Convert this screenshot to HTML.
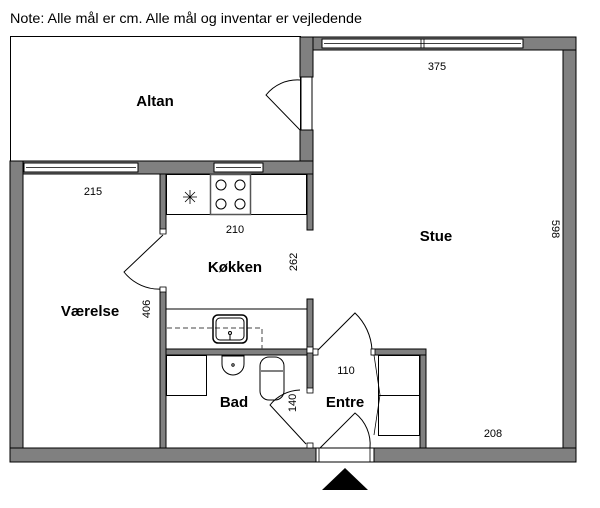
<!DOCTYPE html>
<html><head><meta charset="utf-8"><style>
html,body{margin:0;padding:0;background:#fff}
svg{display:block}
text{font-family:"Liberation Sans",sans-serif;fill:#000}
.b{font-weight:bold;font-size:15px}
.s{font-size:11px}
</style></head><body>
<svg width="600" height="508" viewBox="0 0 600 508">
<text x="10" y="23" font-size="14" textLength="352" lengthAdjust="spacingAndGlyphs">Note: Alle mål er cm. Alle mål og inventar er vejledende</text>
<!-- Altan -->
<rect x="10.5" y="36.5" width="290" height="125" fill="none" stroke="#000"/>
<g fill="#808080" stroke="#000" stroke-width="1">
<!-- walls -->
<rect x="300" y="37" width="13" height="40"/>
<rect x="300" y="130" width="13" height="44"/>
<rect x="10" y="161" width="13" height="301"/>
<rect x="23" y="161" width="290" height="13"/>
<rect x="307" y="174" width="6" height="56"/>
<rect x="313" y="37" width="263" height="13"/>
<rect x="563" y="50" width="13" height="412"/>
<rect x="10" y="448" width="306" height="14"/>
<rect x="374" y="448" width="202" height="14"/>
<rect x="160" y="174" width="6" height="59"/>
<rect x="160" y="288" width="6" height="160"/>
<rect x="166" y="349" width="150" height="6"/>
<rect x="307" y="299" width="6" height="91"/>
<rect x="372" y="349" width="54" height="6"/>
<rect x="420" y="355" width="6" height="93"/>
</g>
<!-- windows -->
<g fill="#fff" stroke="#000" stroke-width="1">
<rect x="24" y="163" width="114" height="9"/>
<rect x="214" y="163" width="49" height="9"/>
<rect x="322" y="39" width="201" height="9"/>
<rect x="301" y="77" width="11" height="53"/>
<rect x="316" y="448" width="58" height="14"/>
</g>
<g stroke="#000" stroke-width="0.8" fill="none">
<line x1="26" y1="167.5" x2="136" y2="167.5"/>
<line x1="216" y1="167.5" x2="261" y2="167.5"/>
<line x1="324" y1="43.5" x2="521" y2="43.5"/>
<line x1="421" y1="39" x2="421" y2="48"/><line x1="424" y1="39" x2="424" y2="48"/>
<line x1="319" y1="448" x2="319" y2="462"/><line x1="370" y1="448" x2="370" y2="462"/>
</g>
<!-- kitchen counter -->
<g stroke="#000" fill="none" stroke-width="1">
<rect x="166.5" y="174.5" width="140" height="40" fill="#fff"/>
<rect x="210.5" y="174.5" width="40" height="40" stroke="#555" stroke-width="1.5"/>
<circle cx="221" cy="185" r="5"/><circle cx="240" cy="185" r="5"/>
<circle cx="221" cy="204" r="5"/><circle cx="240" cy="204" r="5"/>
<path d="M183 197h14M190 190v14M185 192l10 10M195 192l-10 10" stroke-width="0.8"/>
<!-- sink counter -->
<line x1="166" y1="309" x2="307" y2="309"/>
<path d="M167 328H262V349" stroke-dasharray="5,3" stroke="#444"/>
<rect x="213" y="315" width="34" height="28" rx="5" stroke-width="1.5"/>
<rect x="216" y="318" width="28" height="22" rx="4"/>
<circle cx="230" cy="333" r="1.5"/><line x1="230" y1="334" x2="230" y2="340"/>
<!-- bath -->
<rect x="166.5" y="355.5" width="40" height="40"/>
<path d="M222 356h22v8a11 11 0 0 1-22 0z"/>
<circle cx="233" cy="365" r="1.2"/>
<rect x="260" y="357" width="24" height="43" rx="9"/>
<line x1="261" y1="371" x2="283" y2="371"/>
<!-- wardrobe -->
<rect x="378.5" y="355.5" width="41" height="80"/>
<line x1="378" y1="395.5" x2="420" y2="395.5"/>
<!-- doors -->
<path d="M300 130L266 95A40 40 0 0 1 300 80"/>
<path d="M163 235L124 272A45 45 0 0 0 163 289"/>
<path d="M306 444L270 405A40 40 0 0 1 300 390"/>
<path d="M318 350L355 313A55 55 0 0 1 372 350"/>
<path d="M320 448L355 413A40 40 0 0 1 370 448"/>
<path d="M374 355L380 395L374 435" stroke-width="0.8"/>
</g>
<g fill="#fff" stroke="#000" stroke-width="0.8">
<rect x="160" y="229" width="6" height="5"/><rect x="160" y="287" width="6" height="5"/>
<rect x="307" y="347" width="6" height="6"/><rect x="313" y="349" width="5" height="6"/>
<rect x="371" y="349" width="4" height="6"/><rect x="307" y="388" width="6" height="5"/>
<rect x="307" y="443" width="6" height="5"/>
</g>
<polygon points="345,468 322,490 368,490" fill="#000"/>
<!-- labels -->
<text class="b" x="155" y="106" text-anchor="middle">Altan</text>
<text class="s" x="93" y="195" text-anchor="middle">215</text>
<text class="s" x="235" y="233" text-anchor="middle">210</text>
<text class="b" x="235" y="272" text-anchor="middle">Køkken</text>
<text class="s" transform="translate(297,262) rotate(-90)" text-anchor="middle">262</text>
<text class="b" x="436" y="241" text-anchor="middle">Stue</text>
<text class="s" transform="translate(552,229) rotate(90)" text-anchor="middle">598</text>
<text class="s" x="437" y="70" text-anchor="middle">375</text>
<text class="b" x="90" y="316" text-anchor="middle">Værelse</text>
<text class="s" transform="translate(150,309) rotate(-90)" text-anchor="middle">406</text>
<text class="s" x="346" y="374" text-anchor="middle">110</text>
<text class="b" x="234" y="407" text-anchor="middle">Bad</text>
<text class="s" transform="translate(296,403) rotate(-90)" text-anchor="middle">140</text>
<text class="b" x="345" y="407" text-anchor="middle">Entre</text>
<text class="s" x="493" y="437" text-anchor="middle">208</text>
</svg>
</body></html>
